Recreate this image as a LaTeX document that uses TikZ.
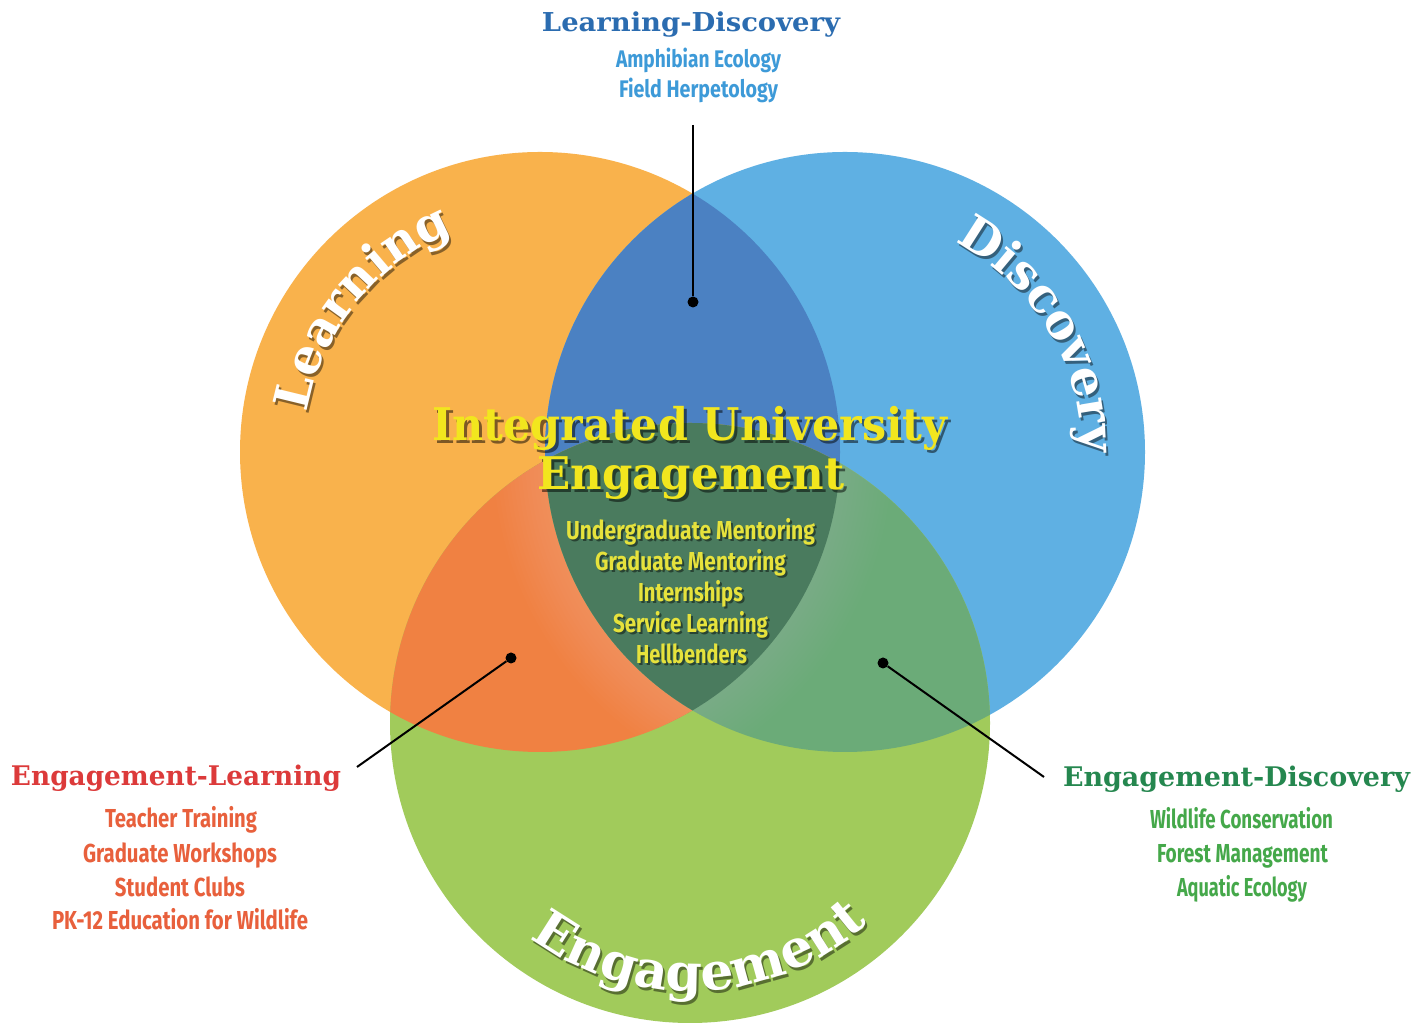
\documentclass[tikz,border=0pt]{standalone}
\usepackage{fontspec}
\usepackage{graphicx}
\usetikzlibrary{decorations.text,calc}
\newfontfamily\slab{DejaVu Serif}
\newfontfamily\cond{Fira Sans}
\definecolor{corange}{HTML}{F9B24C}
\definecolor{cblue}{HTML}{5FB0E3}
\definecolor{cgreen}{HTML}{A1CB5B}
\definecolor{cob}{HTML}{4B81C2}
\definecolor{cog}{HTML}{F08142}
\definecolor{cbg}{HTML}{6BAB78}
\definecolor{ccen}{HTML}{4A7B5E}
\definecolor{ldhead}{HTML}{2B6CB0}
\definecolor{ldsub}{HTML}{3D9AD8}
\definecolor{elhead}{HTML}{DC3A3A}
\definecolor{elsub}{HTML}{E8603C}
\definecolor{edhead}{HTML}{25874F}
\definecolor{edsub}{HTML}{45A84A}
\definecolor{cyel}{HTML}{F2E61E}
\definecolor{cyel2}{HTML}{E6E23C}
\newcommand\fitw[2]{\resizebox{#1pt}{\height}{#2}}
\newcommand\curvefmt{\slab\bfseries\fontsize{48}{48}\selectfont}
\newcommand\curvefmtb{\slab\bfseries\fontsize{52}{52}\selectfont}
\begin{document}
\begin{tikzpicture}[x=1pt,y=1pt,
  head/.style={inner sep=0pt,anchor=base,font=\slab\bfseries\fontsize{27}{30}\selectfont},
  sub/.style={inner sep=0pt,anchor=base,font=\cond\bfseries\fontsize{26}{30}\selectfont},
  big/.style={inner sep=0pt,anchor=base,font=\slab\bfseries\fontsize{45}{50}\selectfont},
  dot/.style={circle,fill=black,inner sep=0pt,minimum size=11pt},
  conn/.style={draw=black,line width=2pt},
  glow/.style={draw=white,line width=#1,opacity=0.012}]
\useasboundingbox (0,0) rectangle (1414,1035);
\fill[white] (0,0) rectangle (1414,1035);
\coordinate (oc) at (540,583);
\coordinate (bc) at (845,583);
\coordinate (gc) at (690,312);
\def\R{300}
% circles
\fill[corange] (oc) circle[radius=\R];
\fill[cblue] (bc) circle[radius=\R];
\fill[cgreen] (gc) circle[radius=\R];
\begin{scope}
  \clip (oc) circle[radius=\R];
  \fill[cob] (bc) circle[radius=\R];
  \fill[cog] (gc) circle[radius=\R];
\end{scope}
\begin{scope}
  \clip (bc) circle[radius=\R];
  \fill[cbg] (gc) circle[radius=\R];
\end{scope}
% soft light bands next to the centre region
\begin{scope}
  \clip (oc) circle[radius=\R];
  \clip (gc) circle[radius=\R];
  \foreach \w in {8,16,...,104} \draw[glow=\w pt] (bc) circle[radius=\R];
\end{scope}
\begin{scope}
  \clip (bc) circle[radius=\R];
  \clip (gc) circle[radius=\R];
  \foreach \w in {8,16,...,104} \draw[glow=\w pt] (oc) circle[radius=\R];
\end{scope}
\begin{scope}
  \clip (oc) circle[radius=\R];
  \clip (bc) circle[radius=\R];
  \fill[ccen] (gc) circle[radius=\R];
\end{scope}
% curved labels: shadows
\begin{scope}[opacity=0.45]
\path[decorate,decoration={text along path,text align=center,text={|\curvefmt\color{black}|Learning}}]
  ($(oc)+(2,-3)+(182:236)$) arc[start angle=182,end angle=100,radius=236];
\path[decorate,decoration={text along path,text align=center,text={|\curvefmt\color{black}|Discovery}}]
  ($(bc)+(2,-3)+(70:237)$) arc[start angle=70,end angle=-8,radius=237];
\path[decorate,decoration={text along path,text align=center,text={|\curvefmtb\color{black}|Engagement}}]
  ($(gc)+(2,-3)+(-135:268)$) arc[start angle=-135,end angle=-40,radius=268];
\end{scope}
\path[decorate,decoration={text along path,text align=center,text={|\curvefmt\color{white}|Learning}}]
  ($(oc)+(182:236)$) arc[start angle=182,end angle=100,radius=236];
\path[decorate,decoration={text along path,text align=center,text={|\curvefmt\color{white}|Discovery}}]
  ($(bc)+(70:237)$) arc[start angle=70,end angle=-8,radius=237];
\path[decorate,decoration={text along path,text align=center,text={|\curvefmtb\color{white}|Engagement}}]
  ($(gc)+(-135:268)$) arc[start angle=-135,end angle=-40,radius=268];
% center title
\node[big,text=black,text opacity=0.5] (ts1) at (693,591) {\fitw{515}{Integrated University}};
\node[big,text=black,text opacity=0.5] (ts2) at (694,542) {\fitw{307}{Engagement}};
\node[big,text=cyel] (t1) at (690,594) {\fitw{515}{Integrated University}};
\node[big,text=cyel] (t2) at (691,545) {\fitw{307}{Engagement}};
\foreach \t/\w/\x/\y [count=\i] in {Undergraduate Mentoring/249/690.5/495, Graduate Mentoring/191/690.5/464, Internships/105/690.5/433, Service Learning/155/690.5/402, Hellbenders/111/691.5/371}{
  \node[sub,text=black,text opacity=0.45] (cs\i) at (\x+2,\y-2) {\fitw{\w}{\t}};
  \node[sub,text=cyel2] (c\i) at (\x,\y) {\fitw{\w}{\t}};
}
% Learning-Discovery
\node[head,text=ldhead,font=\slab\bfseries\fontsize{26}{30}\selectfont] (ldh) at (691,1003) {\fitw{298}{Learning-Discovery}};
\node[sub,text=ldsub,font=\cond\bfseries\fontsize{24}{30}\selectfont] (ld1) at (698.5,967) {\fitw{165}{Amphibian Ecology}};
\node[sub,text=ldsub,font=\cond\bfseries\fontsize{24}{30}\selectfont] (ld2) at (698.5,937) {\fitw{159}{Field Herpetology}};
\node[dot] (ldd) at (693,733) {};
\coordinate (ldc) at (693,910);
\draw[conn] (ldc) -- (ldd);
% Engagement-Learning
\node[head,text=elhead] (elh) at (176,249) {\fitw{330}{Engagement-Learning}};
\foreach \t/\w/\x/\y [count=\i] in {Teacher Training/152/181/207, Graduate Workshops/194/180/172, Student Clubs/130/180/138, PK-12 Education for Wildlife/256/180/105}{
  \node[sub,text=elsub] (el\i) at (\x,\y) {\fitw{\w}{\t}};
}
\node[dot] (eld) at (511,377) {};
\coordinate (elc) at (357,268);
\draw[conn] (elc) -- (eld);
% Engagement-Discovery
\node[head,text=edhead] (edh) at (1236.5,248) {\fitw{347}{Engagement-Discovery}};
\foreach \t/\w/\x/\y [count=\i] in {Wildlife Conservation/183/1241.5/206, Forest Management/171/1242.5/172, Aquatic Ecology/130/1242/138}{
  \node[sub,text=edsub] (ed\i) at (\x,\y) {\fitw{\w}{\t}};
}
\node[dot] (edd) at (883,372) {};
\coordinate (edc) at (1044,258);
\draw[conn] (edd) -- (edc);
\end{tikzpicture}
\end{document}
